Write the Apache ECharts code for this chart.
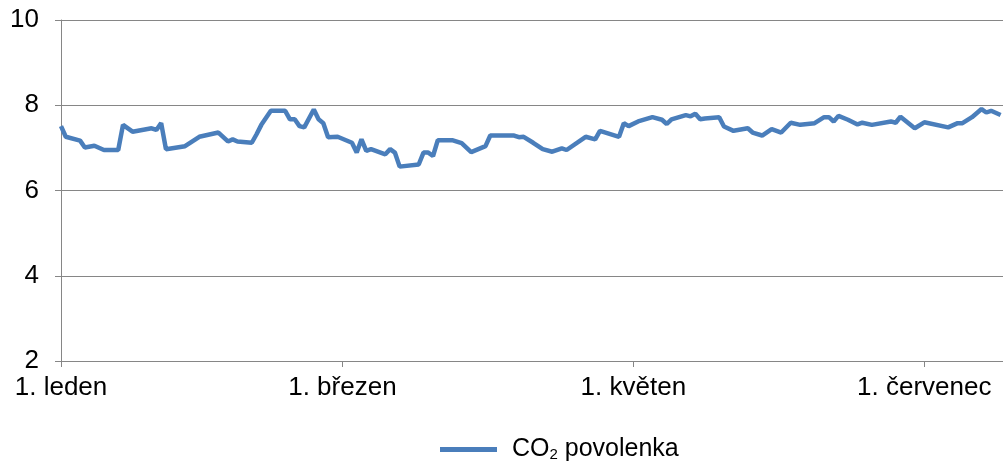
<!DOCTYPE html>
<html>
<head>
<meta charset="utf-8">
<script src="https://cdn.jsdelivr.net/npm/echarts@6/dist/echarts.min.js"></script>
<style>
    html, body { margin: 0; padding: 0; background: #fff; }
    #chart { width: 1003px; height: 464px; }
</style>
</head>
<body>
<div id="chart"></div>
<script>
// dny (2015) a cena povolenky
const dates = [
    '2015-01-01', '2015-01-02', '2015-01-05', '2015-01-06', '2015-01-08', '2015-01-10',
    '2015-01-13', '2015-01-14', '2015-01-16', '2015-01-20', '2015-01-21', '2015-01-22',
    '2015-01-23', '2015-01-27', '2015-01-30', '2015-02-03', '2015-02-05', '2015-02-06',
    '2015-02-07', '2015-02-10', '2015-02-11', '2015-02-12', '2015-02-14', '2015-02-17',
    '2015-02-18', '2015-02-19', '2015-02-20', '2015-02-21', '2015-02-23', '2015-02-24',
    '2015-02-25', '2015-02-26', '2015-02-28', '2015-03-03', '2015-03-04', '2015-03-05',
    '2015-03-06', '2015-03-07', '2015-03-08', '2015-03-10', '2015-03-11', '2015-03-12',
    '2015-03-13', '2015-03-17', '2015-03-18', '2015-03-19', '2015-03-20', '2015-03-21',
    '2015-03-24', '2015-03-26', '2015-03-28', '2015-03-31', '2015-04-01', '2015-04-06',
    '2015-04-07', '2015-04-08', '2015-04-10', '2015-04-12', '2015-04-14', '2015-04-16',
    '2015-04-17', '2015-04-21', '2015-04-23', '2015-04-24', '2015-04-28', '2015-04-29',
    '2015-04-30', '2015-05-02', '2015-05-05', '2015-05-07', '2015-05-08', '2015-05-09',
    '2015-05-12', '2015-05-13', '2015-05-14', '2015-05-15', '2015-05-16', '2015-05-19',
    '2015-05-20', '2015-05-22', '2015-05-25', '2015-05-26', '2015-05-28', '2015-05-30',
    '2015-06-01', '2015-06-03', '2015-06-05', '2015-06-08', '2015-06-10', '2015-06-11',
    '2015-06-12', '2015-06-13', '2015-06-15', '2015-06-17', '2015-06-18', '2015-06-20',
    '2015-06-24', '2015-06-25', '2015-06-26', '2015-06-29', '2015-07-01', '2015-07-06',
    '2015-07-08', '2015-07-09', '2015-07-11', '2015-07-13', '2015-07-14', '2015-07-15',
    '2015-07-17'
]
const prices = [
    7.51, 7.26, 7.17, 7.01, 7.05, 6.95,
    6.95, 7.54, 7.38, 7.46, 7.42, 7.58,
    6.97, 7.04, 7.26, 7.36, 7.15, 7.20,
    7.15, 7.12, 7.32, 7.54, 7.87, 7.87,
    7.67, 7.67, 7.51, 7.48, 7.90, 7.67,
    7.58, 7.25, 7.26, 7.12, 6.89, 7.20,
    6.93, 6.97, 6.93, 6.85, 6.97, 6.89,
    6.56, 6.61, 6.89, 6.89, 6.81, 7.18,
    7.18, 7.11, 6.90, 7.04, 7.29, 7.29,
    7.25, 7.26, 7.12, 6.97, 6.91, 6.99,
    6.95, 7.26, 7.20, 7.40, 7.26, 7.58,
    7.51, 7.62, 7.72, 7.66, 7.56, 7.67,
    7.77, 7.74, 7.80, 7.67, 7.69, 7.72,
    7.50, 7.40, 7.46, 7.36, 7.29, 7.44,
    7.36, 7.59, 7.54, 7.58, 7.72, 7.72,
    7.62, 7.75, 7.66, 7.55, 7.59, 7.54,
    7.62, 7.59, 7.73, 7.46, 7.60, 7.48,
    7.58, 7.58, 7.72, 7.91, 7.83, 7.87,
    7.77
]
const tickDates = ['2015-01-01', '2015-03-01', '2015-05-01', '2015-07-01']
const tickLabels = ['1. leden', '1. březen', '1. květen', '1. červenec']
const seriesName = 'CO2 povolenka'

// den od 1. ledna
const DAY = 24 * 3600 * 1000
const start = Date.parse('2015-01-01')
const dayOf = d => Math.round((Date.parse(d) - start) / DAY)
const tickValues = tickDates.map(dayOf)

const gray = '#868686'
const font = 'Liberation Sans, Arial, sans-serif'

let myChart = echarts.init(document.getElementById('chart'))
myChart.setOption({
    animation: false,
    grid: { left: 61, right: 0, top: 20, bottom: 103, containLabel: false },
    xAxis: {
        type: 'value',
        min: 0,
        max: dayOf('2015-07-17') + 0.5,
        axisLine: { show: true, lineStyle: { color: gray, width: 1 } },
        axisTick: { show: true, length: 6, lineStyle: { color: gray }, customValues: tickValues },
        splitLine: { show: false },
        axisLabel: {
            customValues: tickValues,
            formatter: v => tickLabels[tickValues.indexOf(v)] || '',
            color: '#000', fontSize: 26, fontFamily: font, margin: 14,
            showMinLabel: true, showMaxLabel: true, hideOverlap: false
        }
    },
    yAxis: {
        type: 'value',
        min: 2, max: 10, interval: 2,
        axisLine: { show: true, lineStyle: { color: gray, width: 1 } },
        axisTick: { show: true, length: 6, lineStyle: { color: gray } },
        splitLine: { show: true, lineStyle: { color: gray, width: 1 } },
        axisLabel: { color: '#000', fontSize: 26, fontFamily: font, margin: 22 }
    },
    legend: {
        top: 432,
        left: 435,
        icon: 'rect',
        itemWidth: 57,
        itemHeight: 5,
        itemGap: 20,
        formatter: () => '{a|CO}{s|2}{a| povolenka}',
        textStyle: {
            padding: [0, 0, 0, 10],
            rich: {
                a: { fontSize: 25, fontFamily: font, color: '#000' },
                s: { fontSize: 15, fontFamily: font, color: '#000', padding: [10, 0, 0, 0] }
            }
        },
        data: [seriesName]
    },
    series: [{
        name: seriesName,
        type: 'line',
        showSymbol: false,
        symbol: 'none',
        lineStyle: { color: '#4a7ebb', width: 4.5 },
        itemStyle: { color: '#4a7ebb' },
        data: dates.map((d, i) => [dayOf(d), prices[i]])
    }]
})
</script>
</body>
</html>
